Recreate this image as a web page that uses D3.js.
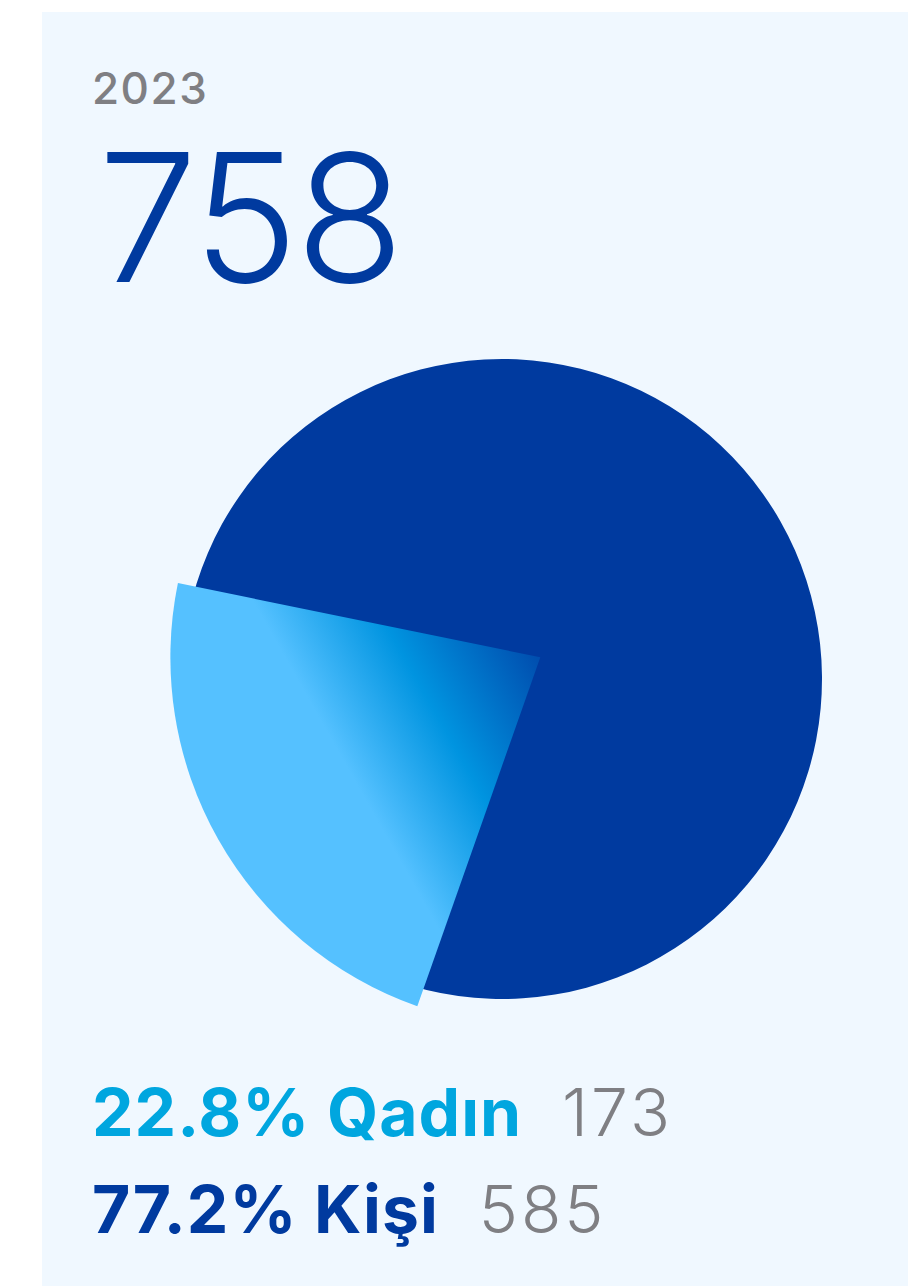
<!DOCTYPE html>
<html>
<head>
<meta charset="utf-8">
<script src="https://cdn.jsdelivr.net/npm/d3@7"></script>
<style>
  html, body { margin: 0; padding: 0; background: #ffffff; }
  svg { display: block; }
  text { font-family: Inter, "Open Sans", sans-serif; }
</style>
</head>
<body>
<svg id="chart" width="908" height="1286"></svg>
<script>
// Gender breakdown for one year
const year = "2023";
const total = 758;
const categories = ["Qadın", "Kişi"];
const counts = [173, 585];
const shares = [22.8, 77.2];

const colors = { "Qadın": "#00a6df", "Kişi": "#003a9f" };
const gray = "#7f7f83";

const W = 908, H = 1286;
const svg = d3.select("#chart");

// card background
svg.append("rect")
  .attr("x", 42).attr("y", 12)
  .attr("width", W - 42).attr("height", H - 12)
  .attr("fill", "#f0f8ff");

// header
svg.append("text")
  .attr("x", 92).attr("y", 104)
  .attr("font-size", 44).attr("font-weight", 500)
  .attr("letter-spacing", 1.5)
  .attr("fill", gray)
  .text(year);

svg.append("text")
  .attr("x", 98).attr("y", 282)
  .attr("font-size", 178).attr("font-weight", 300)
  .attr("fill", colors["Kişi"])
  .attr("letter-spacing", -3)
  .text(d3.format("d")(total));

// pie
const cx = 502, cy = 679, R = 320;
const toRad = Math.PI / 180;

// Qadın slice is centred on 240.5° (clockwise from 12 o'clock)
const qIdx = categories.indexOf("Qadın");
const qSpan = counts[qIdx] / d3.sum(counts) * 360;
const qMid = 240.5;
const start = (qMid + qSpan / 2 - 360) * toRad;

const pie = d3.pie()
  .sort(null)
  .value(d => d.count)
  .startAngle(start)
  .endAngle(start + 2 * Math.PI);

const data = categories.map((c, i) => ({ name: c, count: counts[i], share: shares[i] }));
// Kişi first so that Qadın starts where Kişi ends
const order = [data[1], data[0]];
const arcs = pie(order);

const g = svg.append("g").attr("transform", `translate(${cx},${cy})`);

const arcMain = d3.arc().innerRadius(0).outerRadius(R);
const popR = R * 1.156;
const arcPop = d3.arc().innerRadius(0).outerRadius(popR);

const kArc = arcs.find(a => a.data.name === "Kişi");
const qArc = arcs.find(a => a.data.name === "Qadın");

g.append("path")
  .attr("d", arcMain(kArc))
  .attr("fill", colors["Kişi"]);

// highlighted slice: shifted back along its own axis and enlarged
const mid = (qArc.startAngle + qArc.endAngle) / 2;
const ux = Math.sin(mid), uy = -Math.cos(mid);
const shift = 44;
const ox = -ux * shift, oy = -uy * shift;

const defs = svg.append("defs");
const grad = defs.append("linearGradient")
  .attr("id", "qGrad")
  .attr("gradientUnits", "userSpaceOnUse")
  .attr("x1", ox).attr("y1", oy)
  .attr("x2", ox + ux * popR).attr("y2", oy + uy * popR);
[[0, "#003a9f"], [0.08, "#0044a8"], [0.44, "#0094e0"], [0.72, "#55c1ff"], [1, "#55c1ff"]]
  .forEach(([o, c]) => grad.append("stop").attr("offset", o).attr("stop-color", c));

g.append("path")
  .attr("transform", `translate(${ox},${oy})`)
  .attr("d", arcPop(qArc))
  .attr("fill", "url(#qGrad)");

// legend
const legend = svg.append("g");
const rows = [data[0], data[1]];
const rowY = [1136, 1233];
rows.forEach((d, i) => {
  const t = legend.append("text")
    .attr("x", 92).attr("y", rowY[i])
    .attr("font-size", 66);
  t.append("tspan")
    .attr("font-weight", 700)
    .attr("letter-spacing", 1)
    .attr("fill", colors[d.name])
    .text(`${d3.format(".1f")(d.share)}% ${d.name}`);
  t.append("tspan")
    .attr("dx", 40)
    .attr("font-weight", 300)
    .attr("letter-spacing", 3)
    .attr("fill", gray)
    .text(d.count);
});
</script>
</body>
</html>
